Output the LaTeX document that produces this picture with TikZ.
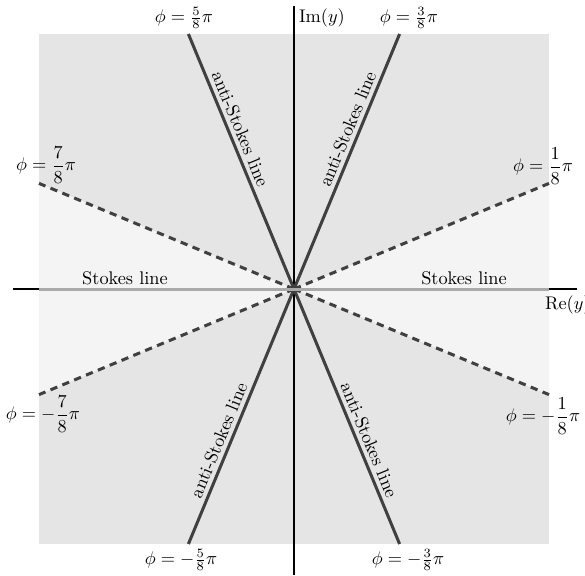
\documentclass[tikz,border=0pt]{standalone}
\usepackage{amsmath}
\definecolor{regdark}{HTML}{E5E5E5}
\definecolor{reglight}{HTML}{F4F4F4}
\definecolor{linedark}{HTML}{404040}
\definecolor{stokesgray}{HTML}{AAAAAA}
\begin{document}
\begin{tikzpicture}[x=0.5464pt,y=-0.5464pt,
  axisline/.style={black, line width=0.75pt},
  antistokes/.style={linedark, line width=1.65pt},
  dashline/.style={linedark, line width=1.65pt, dash pattern=on 4pt off 3pt},
  stokesline/.style={stokesgray, line width=1.65pt},
  lbl/.style={inner sep=2pt, text=black, font=\normalsize}]
\useasboundingbox (0,0) rectangle (585,575);
% key points
\coordinate (C) at (294,289);
\coordinate (A1) at (399.6,34);
\coordinate (A2) at (188.4,34);
\coordinate (A3) at (188.4,544);
\coordinate (A4) at (399.6,544);
\coordinate (D1) at (549,183.4);
\coordinate (D2) at (39,183.4);
\coordinate (D3) at (39,394.6);
\coordinate (D4) at (549,394.6);
\coordinate (SL) at (39,289);
\coordinate (SR) at (549,289);
\coordinate (XL) at (13,289);
\coordinate (XR) at (577,289);
\coordinate (YT) at (294,6);
\coordinate (YB) at (294,575);
% regions
\fill[regdark] (39,34) rectangle (549,544);
\fill[reglight] (C) -- (D1) -- (D4) -- cycle;
\fill[reglight] (C) -- (D2) -- (D3) -- cycle;
% axes
\draw[axisline] (XL) -- (XR);
\draw[axisline] (YT) -- (YB);
% dashed lines
\draw[dashline] (C) -- (D1);
\draw[dashline] (C) -- (D2);
\draw[dashline] (C) -- (D3);
\draw[dashline] (C) -- (D4);
% anti-Stokes lines with labels
\draw[antistokes] (A2) -- (C) node[pos=0.39, sloped, above, lbl] (as2) {anti-Stokes line};
\draw[antistokes] (C) -- (A1) node[pos=0.61, sloped, above, lbl] (as1) {anti-Stokes line};
\draw[antistokes] (A3) -- (C) node[pos=0.39, sloped, above, lbl] (as3) {anti-Stokes line};
\draw[antistokes] (C) -- (A4) node[pos=0.61, sloped, above, lbl] (as4) {anti-Stokes line};
% Stokes line
\draw[stokesline] (SL) -- (SR);
\node[lbl] (sl1) at (125,278) {Stokes line};
\node[lbl] (sl2) at (464,278) {Stokes line};
% axis labels
\node[lbl] (im) at (322,18) {$\mathrm{Im}(y)$};
\node[lbl, anchor=west] (re) at (541,305) {$\mathrm{Re}(y)$};
% angle labels
\node[lbl] (p58) at (184,18) {$\phi = \frac{5}{8}\pi$};
\node[lbl] (p38) at (409,18) {$\phi = \frac{3}{8}\pi$};
\node[lbl] (m58) at (181,560) {$\phi = -\frac{5}{8}\pi$};
\node[lbl] (m38) at (408,560) {$\phi = -\frac{3}{8}\pi$};
\node[lbl] (p78) at (46,165) {$\phi = \dfrac{7}{8}\pi$};
\node[lbl] (p18) at (543,166) {$\phi = \dfrac{1}{8}\pi$};
\node[lbl] (m78) at (43,414) {$\phi = -\dfrac{7}{8}\pi$};
\node[lbl] (m18) at (543,416) {$\phi = -\dfrac{1}{8}\pi$};
\end{tikzpicture}
\end{document}
